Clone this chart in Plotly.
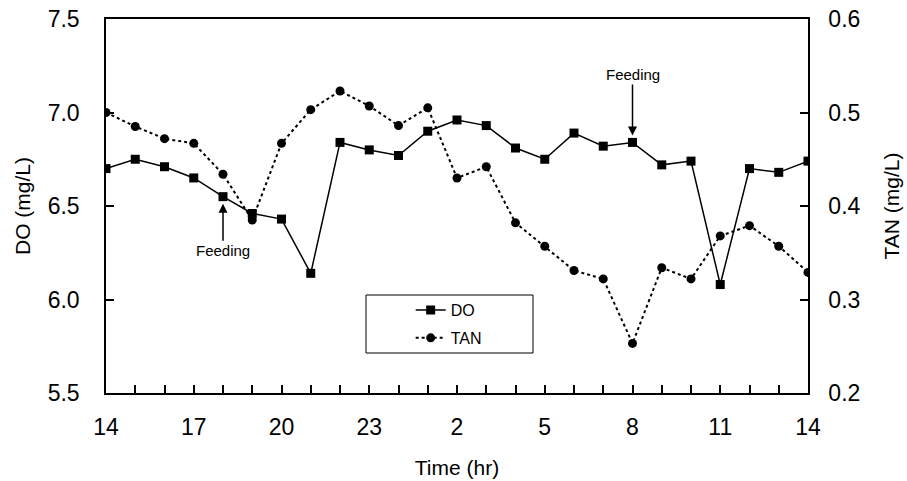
import plotly.graph_objects as go

hour_labels = ["14", "15", "16", "17", "18", "19", "20", "21", "22", "23", "24",
               "1", "2", "3", "4", "5", "6", "7", "8", "9", "10", "11", "12", "13", "14"]
do_values = [6.70, 6.75, 6.71, 6.65, 6.55, 6.46, 6.43, 6.14, 6.84, 6.80, 6.77,
             6.90, 6.96, 6.93, 6.81, 6.75, 6.89, 6.82, 6.84, 6.72, 6.74, 6.08, 6.70, 6.68, 6.74]
tan_values = [0.500, 0.485, 0.472, 0.467, 0.434, 0.385, 0.467, 0.503, 0.523, 0.507, 0.486,
              0.505, 0.430, 0.442, 0.382, 0.357, 0.331, 0.322, 0.253, 0.334, 0.322, 0.368, 0.379, 0.357, 0.329]
tick_labels = ["14", "17", "20", "23", "2", "5", "8", "11", "14"]

x = list(range(len(hour_labels)))
tickvals = x[::3]
FONT = "Liberation Sans, Arial, sans-serif"

fig = go.Figure()
fig.add_trace(go.Scatter(
    x=x, y=do_values, name="DO", mode="lines+markers", legendgroup="a",
    line=dict(color="black", width=1.5),
    marker=dict(symbol="square", size=9, color="black"),
    yaxis="y"))
fig.add_trace(go.Scatter(
    x=x, y=tan_values, name="TAN", mode="lines+markers", legendgroup="b",
    line=dict(color="black", width=2, dash="dot"),
    marker=dict(symbol="circle", size=9, color="black"),
    yaxis="y2"))

fig.update_layout(
    width=907, height=481,
    margin=dict(l=106, r=99, t=19, b=88),
    paper_bgcolor="white", plot_bgcolor="white",
    font=dict(family=FONT, color="black"),
    showlegend=True,
    legend=dict(x=0.434, y=0.267, xanchor="left", yanchor="top",
                bgcolor="rgba(0,0,0,0)", borderwidth=0,
                font=dict(size=16, family=FONT), tracegroupgap=4),
    xaxis=dict(range=[0, 24], tickvals=tickvals, ticktext=tick_labels,
               ticks="inside", ticklen=8, tickwidth=1.5, tickcolor="black",
               minor=dict(ticks="inside", dtick=1, ticklen=8, tickwidth=1.5, tickcolor="black"),
               showline=True, linecolor="black", linewidth=1.5, mirror=True,
               showgrid=False, zeroline=False, ticklabelstandoff=13, automargin=False,
               ticklabeloverflow="allow",
               tickfont=dict(size=23), title=dict(text="Time (hr)", font=dict(size=21), standoff=21)),
    yaxis=dict(range=[5.5, 7.5], dtick=0.5, tickformat=".1f",
               ticks="inside", ticklen=8, tickwidth=1.5, tickcolor="black",
               showline=True, linecolor="black", linewidth=1.5,
               showgrid=False, zeroline=False, ticklabelstandoff=20, automargin=False,
               ticklabeloverflow="allow",
               tickfont=dict(size=23), title=dict(text="DO (mg/L)", font=dict(size=21), standoff=11)),
    yaxis2=dict(range=[0.2, 0.6], dtick=0.1, tickformat=".1f", overlaying="y", side="right",
                ticks="inside", ticklen=8, tickwidth=1.5, tickcolor="black",
                showline=True, linecolor="black", linewidth=1.5,
                showgrid=False, zeroline=False, ticklabelstandoff=14, automargin=False,
                ticklabeloverflow="allow",
                tickfont=dict(size=23), title=dict(text="TAN (mg/L)", font=dict(size=21), standoff=25)),
)

# legend box
fig.add_shape(type="rect", xref="paper", yref="paper",
              x0=(366 - 106) / 702, x1=(533 - 106) / 702,
              y0=(393 - 353) / 374, y1=(393 - 295) / 374,
              line=dict(color="black", width=1), fillcolor="rgba(0,0,0,0)")

fig.add_annotation(x=4, y=6.55, xref="x", yref="y", text="Feeding",
                   showarrow=True, ax=0, ay=54, arrowhead=2, arrowsize=1.2,
                   arrowwidth=1.5, arrowcolor="black", standoff=7, font=dict(size=15))
fig.add_annotation(x=18, y=6.84, xref="x", yref="y", text="Feeding",
                   showarrow=True, ax=0, ay=-68, arrowhead=2, arrowsize=1.2,
                   arrowwidth=1.5, arrowcolor="black", standoff=7, font=dict(size=15))

fig.write_html("out.html", config={"displayModeBar": False},
               post_script="document.body.style.margin='0';document.body.style.overflow='hidden';")
